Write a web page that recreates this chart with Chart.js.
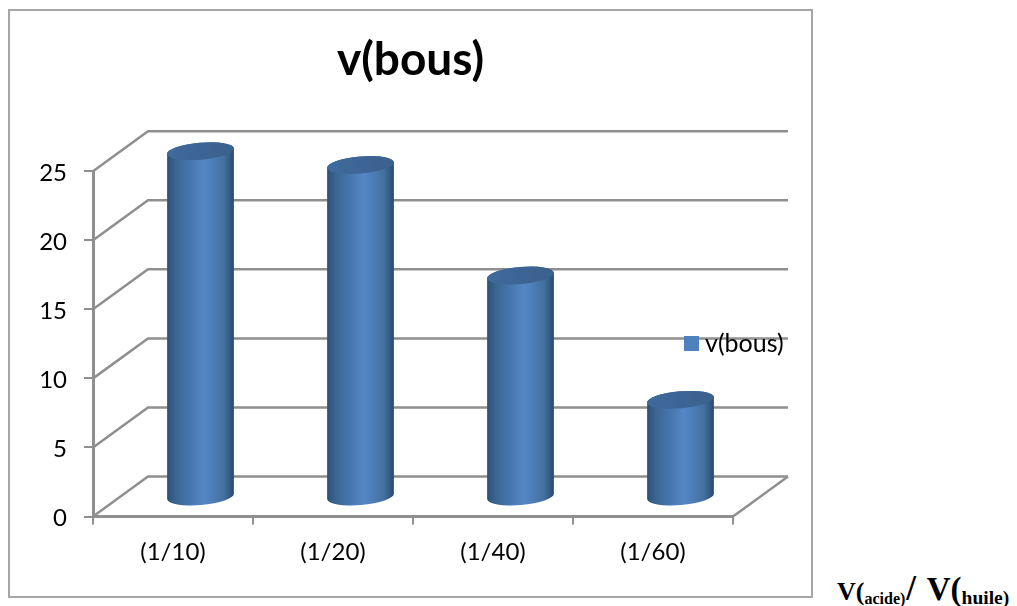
<!DOCTYPE html>
<html>
<head>
<meta charset="utf-8">
<script src="https://cdn.jsdelivr.net/npm/chart.js@4"></script>
<style>
  html, body { margin: 0; padding: 0; background: #fff; width: 1017px; height: 606px; overflow: hidden; }
  #chart { position: absolute; left: 0; top: 0; }
  #ratio { position: absolute; left: 837px; top: 571px; white-space: nowrap; color: #000;
           font-family: "Liberation Serif", serif; font-weight: bold; font-size: 33px; line-height: 36px; }
  #ratio .first { font-size: 26px; }
  #ratio .slash { font-size: 35px; margin: 0 3px 0 1px; }
  #ratio sub { vertical-align: -4px; line-height: 0; }
  #ratio sub.a { font-size: 16px; }
  #ratio sub.h { font-size: 19.5px; }
</style>
</head>
<body>
<canvas id="chart" width="820" height="606"></canvas>
<div id="ratio"><span class="first">V(</span><sub class="a">acide)</sub><span class="slash">/</span> V(<sub class="h">huile)</sub></div>
<script>
const categories = ['(1/10)', '(1/20)', '(1/40)', '(1/60)'];
const seriesName = 'v(bous)';
const seriesValues = [25, 24, 16, 7];

const FONT = 'Lato, "Open Sans", sans-serif';
const AXIS_GREY = '#8f8f8f';
const SERIES_BLUE = '#4f81bd';
const DEPTH = { x: 55, y: -40 };

// Box walls: gridlines run along the back, with slanted connectors to the front axis.
const walls = {
  id: 'walls',
  beforeDraw(chart) {
    const { ctx, scales: { x, y } } = chart;
    ctx.save();
    ctx.strokeStyle = '#a6a6a6';
    ctx.lineWidth = 2;
    ctx.strokeRect(9, 10, 803, 587);

    ctx.strokeStyle = AXIS_GREY;
    ctx.lineWidth = 2.5;
    y.ticks.forEach(t => {
      const py = y.getPixelForValue(t.value);
      ctx.beginPath();
      ctx.moveTo(x.left, py);
      ctx.lineTo(x.left + DEPTH.x, py + DEPTH.y);
      ctx.lineTo(x.right + DEPTH.x, py + DEPTH.y);
      ctx.stroke();
    });
    // Floor edge on the right-hand side
    ctx.beginPath();
    ctx.moveTo(x.right, y.bottom);
    ctx.lineTo(x.right + DEPTH.x, y.bottom + DEPTH.y);
    ctx.stroke();
    ctx.restore();
  }
};

// Each bar is drawn as a tilted cylinder standing mid-way into the box.
const cylinders = {
  id: 'cylinders',
  afterDatasetsDraw(chart) {
    const { ctx } = chart;
    const tilt = -0.085;
    chart.getDatasetMeta(0).data.forEach(bar => {
      const cx = bar.x + DEPTH.x / 2;
      const topY = bar.y + DEPTH.y / 2;
      const baseY = bar.base + DEPTH.y / 2 + 1;
      const rx = bar.width / 2;
      const ry = 8.5;
      const dx = rx * Math.cos(tilt);
      const dy = rx * Math.sin(tilt);

      const body = ctx.createLinearGradient(cx - rx, 0, cx + rx, 0);
      body.addColorStop(0, '#2c5078');
      body.addColorStop(0.12, '#38648f');
      body.addColorStop(0.55, '#5587c8');
      body.addColorStop(0.85, '#42709f');
      body.addColorStop(1, '#2a4a70');

      ctx.save();
      ctx.beginPath();
      ctx.moveTo(cx - dx, topY - dy);
      ctx.lineTo(cx - dx, baseY - dy);
      ctx.ellipse(cx, baseY, rx, ry, tilt, Math.PI, 0, true);
      ctx.lineTo(cx + dx, topY + dy);
      ctx.ellipse(cx, topY, rx, ry, tilt, 0, -Math.PI, true);
      ctx.closePath();
      ctx.fillStyle = body;
      ctx.fill();

      const cap = ctx.createLinearGradient(cx - rx, 0, cx + rx, 0);
      cap.addColorStop(0, '#3f6a9c');
      cap.addColorStop(1, '#3b608c');
      ctx.beginPath();
      ctx.ellipse(cx, topY, rx, ry, tilt, 0, Math.PI * 2);
      ctx.fillStyle = cap;
      ctx.fill();
      ctx.restore();
    });
  }
};

// Legend sits over the plot beside the last bar; the title is centred on the frame.
const placement = {
  id: 'placement',
  afterLayout(chart) {
    const l = chart.legend;
    l.left = 680.5; l.right = 810;
    l.top = 321; l.bottom = 357;
    const t = chart.titleBlock;
    t.left = 9; t.right = 812;
  }
};

// Square legend marker, sized independently of the label gap.
const swatch = document.createElement('canvas');
swatch.width = 15;
swatch.height = 15;
const swatchCtx = swatch.getContext('2d');
swatchCtx.fillStyle = SERIES_BLUE;
swatchCtx.fillRect(0, 0, 15, 15);

new Chart(document.getElementById('chart'), {
  type: 'bar',
  data: {
    labels: categories,
    datasets: [{
      label: seriesName,
      data: seriesValues,
      backgroundColor: 'transparent',
      borderWidth: 0,
      categoryPercentage: 1,
      barPercentage: 67 / 160
    }]
  },
  plugins: [walls, placement, cylinders],
  options: {
    responsive: false,
    animation: false,
    events: [],
    layout: { padding: { left: 0, right: 87, top: 0, bottom: 0 } },
    plugins: {
      tooltip: { enabled: false },
      title: {
        display: true,
        text: seriesName,
        color: '#000',
        font: { family: FONT, size: 46, weight: 'bold', lineHeight: 1.2 },
        padding: { top: 33, bottom: 83 }
      },
      legend: {
        position: 'chartArea',
        align: 'start',
        onClick: null,
        labels: {
          usePointStyle: true,
          pointStyle: swatch,
          pointStyleWidth: 2,
          boxHeight: 15,
          padding: 10,
          color: '#000',
          font: { family: FONT, size: 25 },
          generateLabels: () => [{ text: seriesName, pointStyle: swatch, fillStyle: SERIES_BLUE, lineWidth: 0, strokeStyle: 'transparent', hidden: false, datasetIndex: 0 }]
        }
      }
    },
    scales: {
      x: {
        afterFit(s) { s.height = 89.5; },
        grid: { drawOnChartArea: false, drawTicks: true, tickLength: 8, color: AXIS_GREY, lineWidth: 2 },
        border: { display: true, color: AXIS_GREY, width: 3 },
        ticks: { color: '#000', padding: 13, maxRotation: 0, font: { family: FONT, size: 24 } }
      },
      y: {
        min: 0,
        max: 25,
        afterFit(s) { s.width = 93; },
        grid: { drawOnChartArea: false, drawTicks: true, tickLength: 9, color: AXIS_GREY, lineWidth: 2 },
        border: { display: true, color: AXIS_GREY, width: 3 },
        ticks: {
          stepSize: 5,
          color: '#000',
          padding: 17,
          // A blank first line with a tight line height nudges the digits onto the tick.
          callback: v => ['', String(v)],
          font: { family: FONT, size: 24, lineHeight: '4px' }
        }
      }
    }
  }
});
</script>
</body>
</html>
